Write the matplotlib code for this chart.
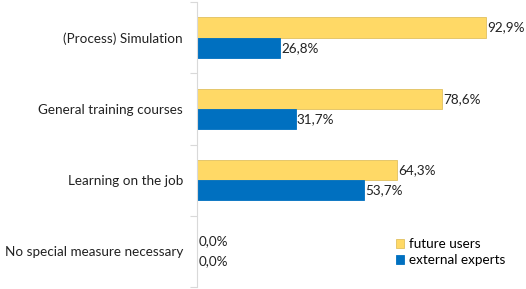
import numpy as np
from matplotlib import pyplot as plt
from matplotlib.ticker import FixedLocator

categories = ['(Process) Simulation', 'General training courses',
              'Learning on the job', 'No special measure necessary']
future_users = [92.9, 78.6, 64.3, 0.0]
external_experts = [26.8, 31.7, 53.7, 0.0]

plt.rcParams['font.family'] = ['Lato', 'DejaVu Sans']
fs = 9.7

fig = plt.figure(figsize=(5.26, 2.89), dpi=100)
ax = fig.add_axes([0.3745, 0.007, 0.592, 0.986])

y = np.arange(len(categories))
h = 0.285
yellow = '#FFD966'
blue = '#0070C0'

b1 = ax.barh(y - h / 2, future_users, height=h, color=yellow,
             edgecolor='#E0C060', linewidth=0.6, label='future users')
b2 = ax.barh(y + h / 2, external_experts, height=h, color=blue,
             edgecolor=blue, linewidth=0.6, label='external experts')

for bars, vals in ((b1, future_users), (b2, external_experts)):
    for bar, v in zip(bars, vals):
        ax.text(v + 0.4, bar.get_y() + bar.get_height() / 2,
                f'{v:.1f}%'.replace('.', ','), va='center', ha='left',
                fontsize=fs, color='#222222')

ax.set_xlim(0, 100)
ax.set_ylim(len(categories) - 0.5, -0.5)
ax.set_yticks(y)
ax.set_yticklabels(categories, fontsize=fs, color='#222222')
ax.tick_params(axis='y', which='major', length=0, pad=10)
ax.yaxis.set_minor_locator(FixedLocator(np.arange(-0.5, len(categories), 1)))
ax.tick_params(axis='y', which='minor', length=5, color='#D9D9D9', width=0.8)
ax.set_xticks([])
for s in ('top', 'right', 'bottom'):
    ax.spines[s].set_visible(False)
ax.spines['left'].set_color('#D9D9D9')
ax.spines['left'].set_linewidth(0.8)

ax.legend(loc='lower left', bbox_to_anchor=(0.6, 0.03), frameon=False,
          fontsize=fs, handlelength=0.6, handleheight=0.6,
          handletextpad=0.4, labelspacing=0.3)

fig.savefig('out.png', dpi=100)
